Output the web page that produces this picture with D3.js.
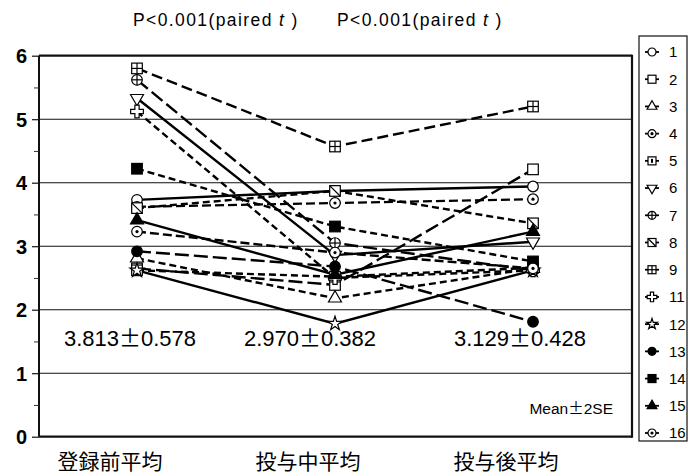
<!DOCTYPE html>
<html>
<head>
<meta charset="utf-8">
<script src="https://cdn.jsdelivr.net/npm/d3@7"></script>
<style>
  body { margin: 0; background: #fff; }
  svg { display: block; }
</style>
</head>
<body>
<div id="chart"></div>
<script>
// categories (x axis)
const categories = ["登録前平均", "投与中平均", "投与後平均"];
// subject ids, legend order
const subjects = ["1", "2", "3", "4", "5", "6", "7", "8", "9", "11", "12", "13", "14", "15", "16"];
// values, one array per period, same order as subjects
const preValues    = [3.73, 2.65, 2.81, 3.62, 2.62, 5.33, 5.62, 3.60, 5.80, 5.12, 2.62, 2.92, 4.22, 3.41, 3.23];
const duringValues = [3.87, 2.39, 2.18, 3.68, 2.52, 2.86, 3.05, 3.87, 4.57, 2.50, 1.78, 2.68, 3.31, 2.55, 2.90];
const postValues   = [3.94, 4.21, 2.65, 3.74, 2.66, 3.07, 2.62, 3.36, 5.20, 2.62, 2.62, 1.81, 2.76, 3.23, 2.65];
const meanLabels = [["3.813", "0.578"], ["2.970", "0.382"], ["3.129", "0.428"]];
const yTicks = [0, 1, 2, 3, 4, 5, 6];

// styles per subject
const markerTypes = ["circle", "square", "triangle", "circleDot", "squareDot", "triDown", "circlePlus",
  "squareSlash", "squarePlus", "cross", "star", "circleFill", "squareFill", "triFill", "circleDot"];
const dashes = ["none", "14,5", "7,4", "9,4", "7,4", "none", "14,5", "7,4", "11,5", "7,4", "none", "14,5", "7,4", "none", "9,4"];

const width = 689, height = 476;
const svg = d3.select("#chart").append("svg")
    .attr("width", width)
    .attr("height", height);

const plotLeft = 39, plotRight = 632, plotTop = 55.7, plotBottom = 436.7;
const latin = "'Liberation Sans', Arial, sans-serif";

const x = d3.scalePoint().domain(categories).range([137, 533]);
const y = d3.scaleLinear().domain([0, 6]).range([plotBottom, plotTop]);

// grid lines
svg.append("g")
  .selectAll("line")
  .data(yTicks)
  .join("line")
    .attr("x1", plotLeft).attr("x2", plotRight)
    .attr("y1", d => y(d)).attr("y2", d => y(d))
    .attr("stroke", "#111")
    .attr("stroke-width", d => (d === 0 || d === 6) ? 2.2 : 1.1);

// frame sides
svg.append("line").attr("x1", plotLeft).attr("x2", plotLeft).attr("y1", plotTop).attr("y2", plotBottom)
  .attr("stroke", "#111").attr("stroke-width", 2);
svg.append("line").attr("x1", plotRight).attr("x2", plotRight).attr("y1", plotTop - 1).attr("y2", plotBottom + 1)
  .attr("stroke", "#111").attr("stroke-width", 2.2);

// y axis: major + minor ticks
const yAxis = svg.append("g")
  .attr("transform", `translate(${plotLeft},0)`)
  .call(d3.axisLeft(y).tickValues(yTicks).tickSize(7).tickFormat(d3.format("d")));
yAxis.select(".domain").remove();
yAxis.selectAll(".tick line").attr("stroke", "#111").attr("stroke-width", 1.2);
yAxis.selectAll(".tick text")
  .attr("x", -12)
  .attr("dy", "0.36em")
  .style("font-family", latin)
  .style("font-size", "20px")
  .style("font-weight", "bold")
  .attr("fill", "#000");

const minor = svg.append("g")
  .attr("transform", `translate(${plotLeft},0)`)
  .call(d3.axisLeft(y).tickValues([0.5, 1.5, 2.5, 3.5, 4.5, 5.5]).tickSize(5).tickFormat(""));
minor.select(".domain").remove();
minor.selectAll(".tick line").attr("stroke", "#333").attr("stroke-width", 1);

// category labels
svg.append("g")
  .selectAll("text")
  .data(categories)
  .join("text")
    .attr("x", d => x(d) - 27)
    .attr("y", 469)
    .attr("text-anchor", "middle")
    .style("font-family", "'Noto Sans CJK JP', sans-serif")
    .style("font-size", "21px")
    .text(d => d);

// series table built from the arrays
const series = subjects.map((id, i) => ({
  id,
  marker: markerTypes[i],
  dash: dashes[i],
  values: [preValues[i], duringValues[i], postValues[i]]
}));

const line = d3.line()
  .x((d, j) => x(categories[j]))
  .y(d => y(d));

svg.append("g")
  .attr("fill", "none")
  .attr("stroke", "#000")
  .attr("stroke-width", 2.4)
  .selectAll("path")
  .data(series)
  .join("path")
    .attr("d", d => line(d.values))
    .attr("stroke-dasharray", d => d.dash);

function drawMarker(g, type, r) {
  const sw = 1.2;
  const open = {fill: "#fff", stroke: "#000", "stroke-width": sw};
  const solid = {fill: "#000", stroke: "#000", "stroke-width": sw};
  const setAttrs = (sel, a) => { Object.entries(a).forEach(([k, v]) => sel.attr(k, v)); return sel; };
  const circle = a => setAttrs(g.append("circle").attr("r", r), a);
  const square = a => setAttrs(g.append("rect").attr("x", -r).attr("y", -r).attr("width", 2 * r).attr("height", 2 * r), a);
  const seg = (x1, y1, x2, y2) => g.append("line").attr("x1", x1).attr("y1", y1).attr("x2", x2).attr("y2", y2)
      .attr("stroke", "#000").attr("stroke-width", sw);
  const sym = (t, area, a, rot) => setAttrs(g.append("path").attr("d", d3.symbol(t, area)())
      .attr("transform", rot ? `rotate(${rot})` : null), a);
  switch (type) {
    case "circle": circle(open); break;
    case "square": square(open); break;
    case "triangle": sym(d3.symbolTriangle, r * r * 2.6, open); break;
    case "triDown": sym(d3.symbolTriangle, r * r * 2.6, open, 180); break;
    case "triFill": sym(d3.symbolTriangle, r * r * 2.6, solid); break;
    case "circleDot": circle(open); g.append("circle").attr("r", 1.6).attr("fill", "#000"); break;
    case "squareDot": square(open); g.append("rect").attr("x", -1).attr("y", -2).attr("width", 2).attr("height", 4).attr("fill", "#000"); break;
    case "circlePlus": circle(open); seg(-r, 0, r, 0); seg(0, -r, 0, r); break;
    case "squarePlus": square(open); seg(-r, 0, r, 0); seg(0, -r, 0, r); break;
    case "squareSlash": square(open); seg(-r, -r, r, r); break;
    case "cross": sym(d3.symbolCross, r * r * 3.2, open); break;
    case "star": sym(d3.symbolStar, r * r * 2.2, open); break;
    case "circleFill": circle(solid); break;
    case "squareFill": square(solid); break;
  }
}

// point markers
series.forEach(s => {
  s.values.forEach((v, j) => {
    const g = svg.append("g").attr("transform", `translate(${x(categories[j])},${y(v)})`);
    drawMarker(g, s.marker, 5.3);
  });
});

// mean ± 2SE labels (the ± is a wide, full-width glyph in the original)
const meanOffsets = [-7, -25, -13];
const meanText = svg.append("g")
  .selectAll("text")
  .data(meanLabels)
  .join("text")
    .attr("x", (d, j) => x(categories[j]) + meanOffsets[j])
    .attr("y", 346)
    .attr("text-anchor", "middle")
    .style("font-family", latin)
    .style("font-size", "22px");
meanText.append("tspan").text(d => d[0]);
meanText.append("tspan").style("font-family", "'Noto Sans CJK JP', sans-serif").text("±");
meanText.append("tspan").text(d => d[1]);

const se = svg.append("text")
  .attr("x", 613).attr("y", 414)
  .attr("text-anchor", "end")
  .style("font-family", latin)
  .style("font-size", "15.5px");
se.append("tspan").text("Mean");
se.append("tspan").style("font-family", "'Noto Sans CJK JP', sans-serif").text("±");
se.append("tspan").text("2SE");

// p-value headers between periods
[133, 337].forEach(px => {
  const t = svg.append("text")
    .attr("x", px).attr("y", 26)
    .style("font-family", latin)
    .style("font-size", "17.5px")
    .style("letter-spacing", "1.4px");
  t.append("tspan").text("P<0.001(paired ");
  t.append("tspan").attr("font-style", "italic").text("t");
  t.append("tspan").text(" )");
});

// legend
const legend = svg.append("g");
legend.append("rect")
  .attr("x", 639).attr("y", 36).attr("width", 48).attr("height", 405)
  .attr("fill", "none").attr("stroke", "#111").attr("stroke-width", 1.2);

const ly = d3.scalePoint().domain(subjects).range([52, 433]);
series.forEach(s => {
  const g = legend.append("g").attr("transform", `translate(652,${ly(s.id)})`);
  g.append("line").attr("x1", -7).attr("x2", 7).attr("stroke", "#000").attr("stroke-width", 1.8);
  drawMarker(g, s.marker, 4);
  legend.append("text")
    .attr("x", 669).attr("y", ly(s.id))
    .attr("dy", "0.36em")
    .style("font-family", "'Liberation Sans Narrow', 'Arial Narrow', 'Liberation Sans', sans-serif")
    .style("font-size", "15px")
    .text(s.id);
});
</script>
</body>
</html>
